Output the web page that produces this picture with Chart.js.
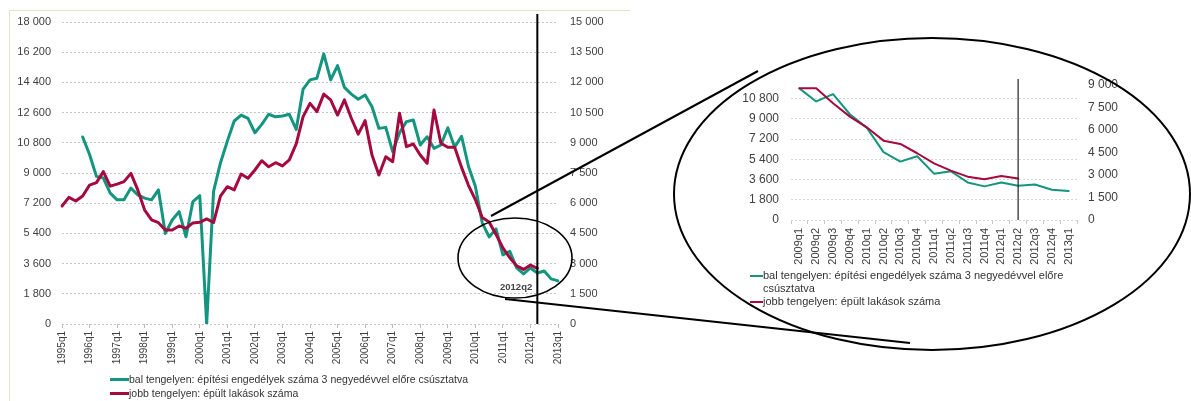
<!DOCTYPE html>
<html>
<head>
<meta charset="utf-8">
<script src="https://cdn.jsdelivr.net/npm/chart.js@4/dist/chart.umd.min.js"></script>
<style>
  body { margin: 0; background: #fff; width: 1191px; height: 401px; overflow: hidden; position: relative;
         font-family: "Liberation Sans", Arial, sans-serif; color: #333; }
  canvas { position: absolute; }
  #frame { position: absolute; left: 9px; top: 10px; width: 620px; height: 400px;
           border-left: 1px solid #e2e2c6; border-top: 1px solid #e2e2c6; }
  #main { left: 0; top: 0; }
  #zoom { left: 720px; top: 60px; }
  #overlay { left: 0; top: 0; pointer-events: none; }
  .lg { position: absolute; white-space: nowrap; }
  .lg .sw { position: absolute; }
  .tag { position: absolute; font-weight: bold; font-size: 9.5px; color: #444; }
</style>
</head>
<body>
<div id="frame"></div>
<canvas id="main" width="620" height="401"></canvas>
<canvas id="zoom" width="420" height="215"></canvas>
<canvas id="overlay" width="1191" height="401"></canvas>

<div class="lg" style="left:110px; top:372px; font-size:10.5px; line-height:14px;">
  <span class="sw" style="left:0; top:6px; width:19px; height:3px; background:#13957f;"></span>
  <div style="margin-left:19px;" id="lgMainGreen"></div>
  <span class="sw" style="left:0; top:20px; width:19px; height:3px; background:#a6093d;"></span>
  <div style="margin-left:19px;" id="lgMainRed"></div>
</div>

<div class="lg" style="left:750px; top:269px; font-size:11px; line-height:13px;">
  <span class="sw" style="left:0; top:6px; width:13px; height:2px; background:#13957f;"></span>
  <div style="margin-left:13px;">bal tengelyen: építési engedélyek száma 3 negyedévvel előre<br>csúsztatva</div>
  <span class="sw" style="left:0; top:32px; width:13px; height:2px; background:#a6093d;"></span>
  <div style="margin-left:13px;">jobb tengelyen: épült lakások száma</div>
</div>

<div class="tag" style="left:500px; top:281px;">2012q2</div>

<script>
/*  Adatok ------------------------------------------------------------------- */
const GREEN = '#13957f';
const RED = '#a6093d';

const seriesNames = [
  'bal tengelyen: építési engedélyek száma 3 negyedévvel előre csúsztatva',
  'jobb tengelyen: épült lakások száma'
];

// negyedévek 1995q1 - 2013q1
const quarters = [];
for (let y = 1995; y <= 2013; y++) {
  for (let q = 1; q <= 4; q++) quarters.push(y + 'q' + q);
}
quarters.length = 73;

const markerQuarter = '2012q2';
const zoomFrom = '2009q1';

// a kinagyított rész bal tengelyének feliratai
const zoomLeftTicks = [0, 1800, 3600, 5400, 7200, 9000, 10800];

// építési engedélyek (3 negyedévvel előre csúsztatva), bal tengely
const permits = [
  null, null, null, 11150, 10100, 8800, 8700, 7800, 7400, 7400,
  8100, 7700, 7500, 7400, 7990, 5400, 6200, 6700, 5200, 7300,
  7650, 0, 7900, 9600, 10900, 12100, 12450, 12250, 11400, 11900,
  12500, 12350, 12400, 12500, 11600, 14000, 14550, 14650, 16100, 14550,
  15400, 14100, 13700, 13400, 13650, 12950, 11660, 11720, 10270, 11400,
  12060, 12160, 10670, 11160, 10470, 10670, 11700, 10540, 11190, 9400,
  8210, 6030, 5190, 5670, 4120, 4330, 3340, 2990, 3340, 3040,
  3160, 2690, 2570
];

// épült lakások, jobb tengely
const built = [
  5860, 6290, 6110, 6360, 6900, 7020, 7570, 6850, 6950, 7070,
  7480, 6660, 5660, 5170, 5030, 4670, 4670, 4870, 4750, 5020,
  5050, 5220, 5040, 6350, 6820, 6660, 7450, 7240, 7650, 8110,
  7810, 8010, 7850, 8150, 8950, 10300, 10960, 10550, 11420, 11130,
  10380, 11130, 10220, 9430, 10100, 8390, 7400, 8310, 8060, 10470,
  8810, 8940, 8390, 7980, 10630, 8980, 8780, 8780, 7780, 6890,
  6180, 5290, 5070, 4450, 3780, 3290, 2890, 2710, 2930, 2760,
  null, null, null
];

document.getElementById('lgMainGreen').textContent = seriesNames[0];
document.getElementById('lgMainRed').textContent = seriesNames[1];

/*  Segédek ------------------------------------------------------------------ */
const fmt = (v) => String(Math.round(v)).replace(/\B(?=(\d{3})+(?!\d))/g, ' ');

// függőleges jelölő vonal egy adott negyedévnél
const markerLine = {
  id: 'markerLine',
  afterDatasetsDraw(chart, args, opts) {
    const x = chart.scales.x.getPixelForValue(opts.index);
    const { top, bottom } = chart.chartArea;
    const c = chart.ctx;
    c.save();
    c.strokeStyle = opts.color;
    c.lineWidth = opts.width;
    c.beginPath();
    c.moveTo(x, top - opts.above);
    c.lineTo(x, bottom);
    c.stroke();
    c.restore();
  }
};

Chart.defaults.font.family = '"Liberation Sans", Arial, sans-serif';
Chart.defaults.color = '#404040';

/*  Fő diagram ---------------------------------------------------------------- */
new Chart(document.getElementById('main'), {
  type: 'line',
  data: {
    labels: quarters,
    datasets: [
      { label: seriesNames[0], data: permits, yAxisID: 'y', borderColor: GREEN, borderWidth: 3, order: 1 },
      { label: seriesNames[1], data: built, yAxisID: 'y1', borderColor: RED, borderWidth: 3, order: 0 },
    ],
  },
  options: {
    responsive: false,
    animation: false,
    layout: { padding: { top: 22, left: 0, right: 0, bottom: 0 } },
    elements: {
      point: { radius: 0 },
      line: { tension: 0, borderJoinStyle: 'round', borderCapStyle: 'round' },
    },
    plugins: {
      legend: { display: false },
      tooltip: { enabled: false },
      markerLine: { index: quarters.indexOf(markerQuarter), above: 8, width: 2, color: '#000' },
    },
    scales: {
      x: {
        offset: false,
        grid: { drawOnChartArea: false, tickLength: 4, color: '#bdbdbd' },
        border: { display: false },
        ticks: {
          autoSkip: false, minRotation: 90, maxRotation: 90, padding: 3,
          font: { size: 10 },
          callback: (v, i) => (i % 4 === 0 ? quarters[i] : null),
        },
        afterFit: (s) => { s.height = 77; },
      },
      y: {
        position: 'left', min: 0, max: 18000,
        ticks: { stepSize: 1800, padding: 11, font: { size: 11 }, callback: fmt },
        grid: { color: '#c4c4c4', drawTicks: false },
        border: { display: false, dash: [2, 2] },
        afterFit: (s) => { s.width = 62; },
      },
      y1: {
        position: 'right', min: 0, max: 15000,
        ticks: { stepSize: 1500, padding: 12, font: { size: 11 }, callback: fmt },
        grid: { drawOnChartArea: false, drawTicks: false },
        border: { display: false },
        afterFit: (s) => { s.width = 62; },
      },
    },
  },
  plugins: [markerLine],
});

/*  Kinagyított rész (2009q1-től) -------------------------------------------- */
const zi = quarters.indexOf(zoomFrom);
const zoomLabels = quarters.slice(zi);

new Chart(document.getElementById('zoom'), {
  type: 'line',
  data: {
    labels: zoomLabels,
    datasets: [
      { label: seriesNames[0], data: permits.slice(zi), yAxisID: 'y', borderColor: GREEN, borderWidth: 2, order: 1 },
      { label: seriesNames[1], data: built.slice(zi), yAxisID: 'y1', borderColor: RED, borderWidth: 2, order: 0 },
    ],
  },
  options: {
    responsive: false,
    animation: false,
    layout: { padding: { top: 25, left: 0, right: 0, bottom: 0 } },
    elements: {
      point: { radius: 0 },
      line: { tension: 0, borderJoinStyle: 'round', borderCapStyle: 'round' },
    },
    plugins: {
      legend: { display: false },
      tooltip: { enabled: false },
      markerLine: { index: zoomLabels.indexOf(markerQuarter), above: 6, width: 1.2, color: '#222' },
    },
    scales: {
      x: {
        offset: true,
        grid: { offset: true, drawOnChartArea: false, tickLength: 4, color: '#c8c8c8' },
        border: { display: false },
        ticks: { autoSkip: false, minRotation: 90, maxRotation: 90, padding: 4, font: { size: 11 } },
        afterFit: (s) => { s.height = 55; },
      },
      y: {
        position: 'left', min: 0, max: 12000,
        ticks: { padding: 12, font: { size: 12 }, callback: fmt },
        afterBuildTicks: (s) => { s.ticks = zoomLeftTicks.map((v) => ({ value: v })); },
        grid: { color: '#d6d6d6', drawTicks: false },
        border: { display: false, dash: [2, 2] },
        afterFit: (s) => { s.width = 71; },
      },
      y1: {
        position: 'right', min: 0, max: 9000,
        ticks: { stepSize: 1500, padding: 11, font: { size: 12 }, callback: fmt },
        grid: { drawOnChartArea: false, drawTicks: false },
        border: { display: false },
        afterFit: (s) => { s.width = 63; },
      },
    },
  },
  plugins: [markerLine],
});

/*  Ellipszisek és összekötő vonalak ----------------------------------------- */
const ov = document.getElementById('overlay').getContext('2d');
ov.strokeStyle = '#000';
ov.lineWidth = 1.6;
ov.beginPath();
ov.ellipse(515, 258, 57, 40, 0, 0, Math.PI * 2);
ov.stroke();
ov.lineWidth = 2;
ov.beginPath();
ov.ellipse(932, 194, 258, 156, 0, 0, Math.PI * 2);
ov.stroke();
ov.beginPath();
ov.moveTo(491, 216); ov.lineTo(758, 71);
ov.moveTo(505, 299); ov.lineTo(910, 343);
ov.stroke();
</script>
</body>
</html>
